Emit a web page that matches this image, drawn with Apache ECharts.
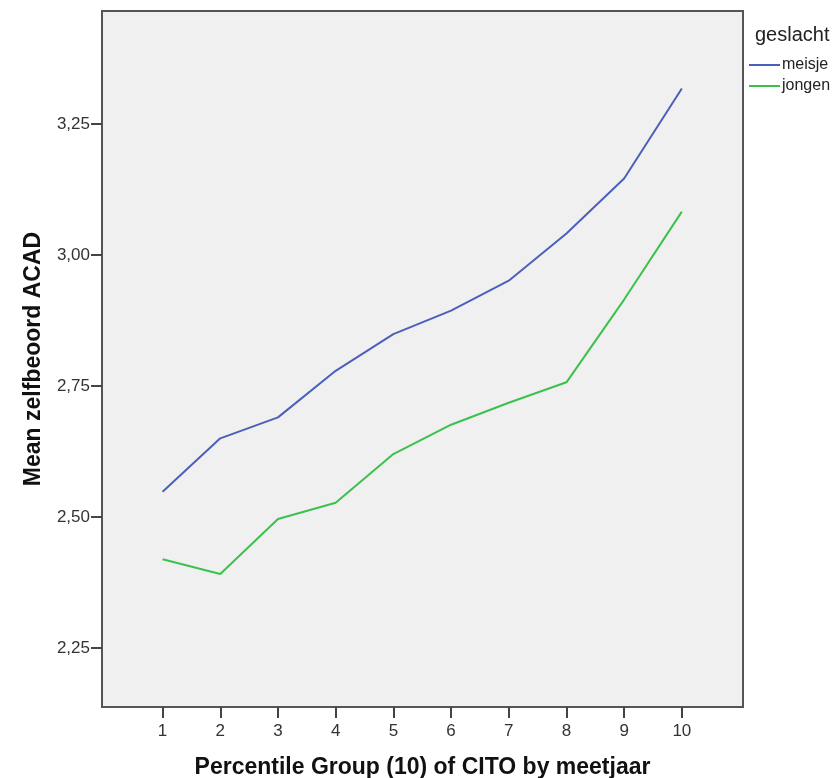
<!DOCTYPE html>
<html>
<head>
<meta charset="utf-8">
<script src="https://cdn.jsdelivr.net/npm/echarts@6/dist/echarts.min.js"></script>
<style>html,body{margin:0;padding:0;background:#fff}#c{width:838px;height:778px}</style>
</head>
<body>
<div id="c"></div>
<script>
const groups = [1, 2, 3, 4, 5, 6, 7, 8, 9, 10];
const meisje = [2.548, 2.650, 2.690, 2.779, 2.849, 2.894, 2.951, 3.041, 3.146, 3.318];
const jongen = [2.419, 2.391, 2.496, 2.527, 2.620, 2.676, 2.718, 2.757, 2.915, 3.083];
const yTicks = [2.25, 2.5, 2.75, 3.0, 3.25];
const seriesNames = ['meisje', 'jongen'];

const font = 'Liberation Sans, Arial, sans-serif';
const chart = echarts.init(document.getElementById('c'), null, {renderer: 'canvas'});
chart.setOption({
  animation: false,
  backgroundColor: '#ffffff',
  title: {
    text: 'geslacht', left: 750, top: 20,
    textStyle: {fontFamily: font, fontSize: 20, fontWeight: 'normal', color: '#222'}
  },
  legend: {
    orient: 'vertical', left: 744, top: 52, itemGap: 5,
    itemWidth: 31, itemHeight: 10, icon: 'path://M0,4 L31,4 L31,6 L0,6 Z',
    data: seriesNames,
    textStyle: {fontFamily: font, fontSize: 16, color: '#222', padding: [0, 0, 0, -3]}
  },
  grid: {left: 102, top: 11, right: 95, bottom: 71, show: true, containLabel: false,
    outerBoundsMode: 'none',
    backgroundColor: '#f0f0f0', borderColor: '#555', borderWidth: 2},
  xAxis: {
    type: 'value', min: -0.05, max: 11.06,
    name: 'Percentile Group (10) of CITO by meetjaar',
    nameLocation: 'middle', nameGap: 49,
    nameTextStyle: {fontFamily: font, fontSize: 23, fontWeight: 'bold', color: '#111'},
    axisLine: {show: true, onZero: false, lineStyle: {color: '#555', width: 2}},
    axisTick: {show: true, length: 11, customValues: groups, lineStyle: {color: '#444', width: 2}},
    axisLabel: {customValues: groups, fontFamily: font, fontSize: 17, color: '#333', margin: 16},
    splitLine: {show: false}
  },
  yAxis: {
    type: 'value', min: 2.137, max: 3.466,
    name: 'Mean zelfbeoord ACAD',
    nameLocation: 'middle', nameGap: 57,
    nameTextStyle: {fontFamily: font, fontSize: 23, fontWeight: 'bold', color: '#111'},
    axisLine: {show: true, onZero: false, lineStyle: {color: '#555', width: 2}},
    axisTick: {show: true, length: 11, customValues: yTicks, lineStyle: {color: '#444', width: 2}},
    axisLabel: {customValues: yTicks, fontFamily: font, fontSize: 17, color: '#333', margin: 12,
      padding: [9, 0, 0, 0],
      formatter: v => v.toFixed(2).replace('.', ',')},
    splitLine: {show: false}
  },
  series: [
    {name: seriesNames[0], type: 'line', data: groups.map((g, i) => [g, meisje[i]]),
      symbol: 'none', lineStyle: {color: '#4b60bb', width: 2}, itemStyle: {color: '#4b60bb'}},
    {name: seriesNames[1], type: 'line', data: groups.map((g, i) => [g, jongen[i]]),
      symbol: 'none', lineStyle: {color: '#3cc04e', width: 2}, itemStyle: {color: '#3cc04e'}}
  ]
});
</script>
</body>
</html>
